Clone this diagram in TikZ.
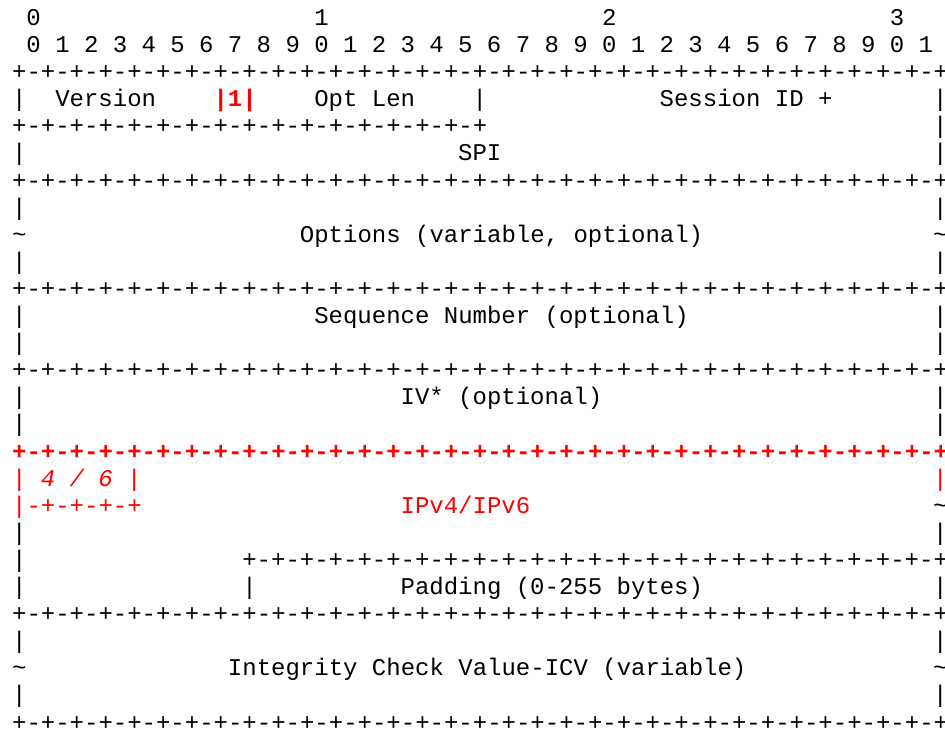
\documentclass[tikz,border=0pt]{standalone}
\usepackage{fontspec}
\setmonofont{Liberation Mono}
\definecolor{hl}{RGB}{255,0,0}

% one character cell = 14.39pt wide, rows are 27.1pt apart
\newcommand\cellat[5]{\node[#3] (#5) at ({12.1+(#1)*14.39},{704.5-((#2)-1)*27.1}) {#4};}
\def\pairs{-+-+-+-+-+-+-+-+}
\def\sepfull{+\pairs\pairs\pairs\pairs}
\def\sephalf{+\pairs\pairs}
\def\sepwide{+\pairs\pairs\pairs}
\def\tl{\textasciitilde}

\tikzset{
  glyph/.style={anchor=base west, inner sep=0pt, outer sep=0pt,
    font=\ttfamily\fontsize{24}{24}\selectfont, text=black},
  hot/.style={glyph, text=hl},
  hotbold/.style={hot, font=\ttfamily\bfseries\fontsize{24}{24}\selectfont},
  hotit/.style={hot, font=\ttfamily\itshape\fontsize{24}{24}\selectfont},
}

\begin{document}
\begin{tikzpicture}[x=1pt, y=1pt]
\fill[white] (0,0) rectangle (945,730);
\useasboundingbox (0,0) rectangle (945,730);

% bit numbering
\cellat{1}{1}{glyph}{0}{ten0}
\cellat{21}{1}{glyph}{1}{ten1}
\cellat{41}{1}{glyph}{2}{ten2}
\cellat{61}{1}{glyph}{3}{ten3}
\foreach \i in {0,...,31}{
  \pgfmathtruncatemacro\d{mod(\i,10)}
  \pgfmathtruncatemacro\c{2*\i+1}
  \cellat{\c}{2}{glyph}{\d}{bit\i}
}

% full-width separators
\foreach \r in {3,7,11,14,23,27}{
  \cellat{0}{\r}{glyph}{\sepfull}{sep\r}
}
\cellat{0}{17}{hotbold}{\sepfull}{sep17}

% plain side bars
\foreach \r in {4,6,8,10,12,13,15,16,20,22,24,26}{
  \cellat{0}{\r}{glyph}{|}{lb\r}
  \cellat{64}{\r}{glyph}{|}{rb\r}
}
\foreach \r in {9,25}{
  \cellat{0}{\r}{glyph}{\tl}{lb\r}
  \cellat{64}{\r}{glyph}{\tl}{rb\r}
}

% first word
\cellat{3}{4}{glyph}{Version}{version}
\cellat{14}{4}{hotbold}{|1|}{flag}
\cellat{21}{4}{glyph}{Opt Len}{optlen}
\cellat{32}{4}{glyph}{|}{optbar}
\cellat{45}{4}{glyph}{Session ID +}{sessid}
\cellat{0}{5}{glyph}{\sephalf}{sep5}
\cellat{64}{5}{glyph}{|}{rb5}

% fields
\cellat{31}{6}{glyph}{SPI}{spi}
\cellat{20}{9}{glyph}{Options (variable, optional)}{options}
\cellat{21}{12}{glyph}{Sequence Number (optional)}{seqnum}
\cellat{27}{15}{glyph}{IV* (optional)}{iv}

% inner packet
\cellat{0}{18}{hot}{|}{lb18}
\cellat{2}{18}{hotit}{4 / 6}{ver46}
\cellat{8}{18}{hot}{|}{verbar}
\cellat{64}{18}{hot}{|}{rb18}
\cellat{0}{19}{hot}{|-+-+-+-+}{verbox}
\cellat{27}{19}{hot}{IPv4/IPv6}{ipv}
\cellat{64}{19}{glyph}{\tl}{rb19}

% padding
\cellat{0}{21}{glyph}{|}{lb21}
\cellat{16}{21}{glyph}{\sepwide}{sep21}
\cellat{16}{22}{glyph}{|}{padbar}
\cellat{27}{22}{glyph}{Padding (0-255 bytes)}{padding}

% trailer
\cellat{15}{25}{glyph}{Integrity Check Value-ICV (variable)}{icv}
\end{tikzpicture}
\end{document}
